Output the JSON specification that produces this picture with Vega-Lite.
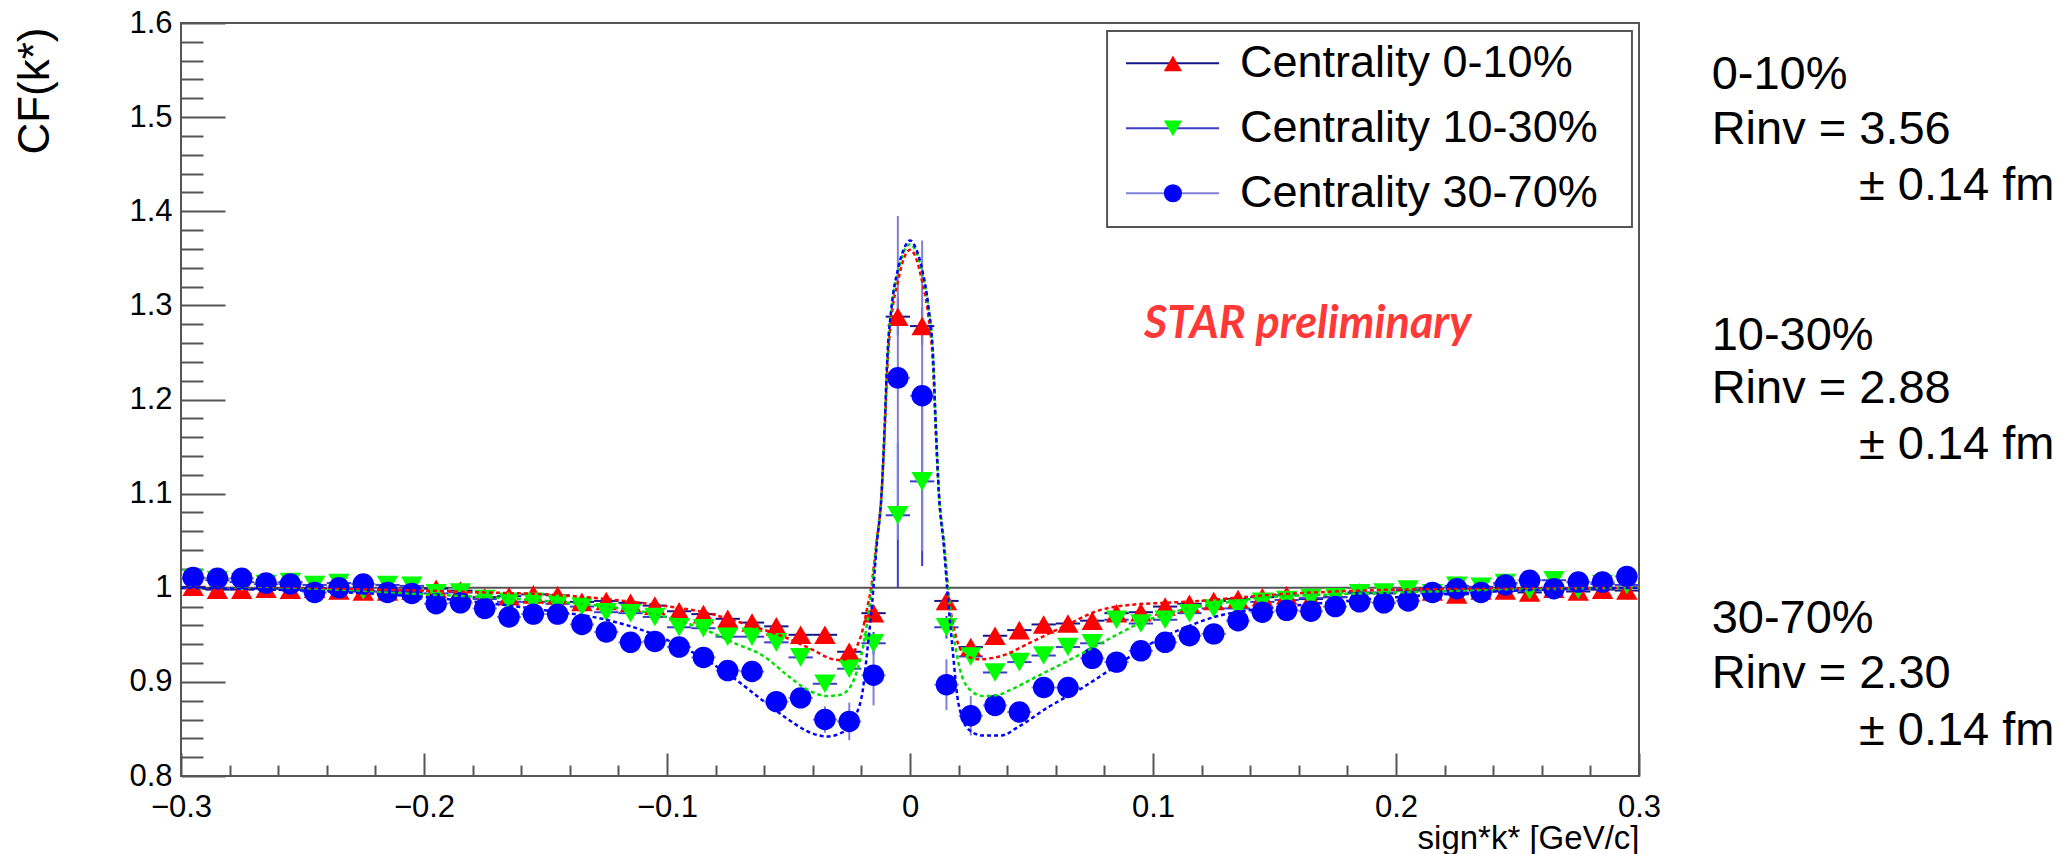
{
"$schema":"https://vega.github.io/schema/vega-lite/v6.json",
"width":1458,"height":753,
"autosize":{"type":"none"},
"padding":{"left":181,"top":23,"right":433,"bottom":78},
"background":"white",
"config":{"view":{"stroke":"#555","strokeWidth":2},"font":"Liberation Sans"},
"datasets":{
"pts":[
{"s":"0-10%","x":-0.295,"lo":-0.3,"hi":-0.29,"y":1.001,"e":0.003},
{"s":"0-10%","x":-0.285,"lo":-0.29,"hi":-0.28,"y":0.998,"e":0.003},
{"s":"0-10%","x":-0.275,"lo":-0.28,"hi":-0.27,"y":0.998,"e":0.003},
{"s":"0-10%","x":-0.265,"lo":-0.27,"hi":-0.26,"y":0.999,"e":0.003},
{"s":"0-10%","x":-0.255,"lo":-0.26,"hi":-0.25,"y":0.998,"e":0.003},
{"s":"0-10%","x":-0.245,"lo":-0.25,"hi":-0.24,"y":0.999,"e":0.003},
{"s":"0-10%","x":-0.235,"lo":-0.24,"hi":-0.23,"y":0.997,"e":0.003},
{"s":"0-10%","x":-0.225,"lo":-0.23,"hi":-0.22,"y":0.996,"e":0.003},
{"s":"0-10%","x":-0.215,"lo":-0.22,"hi":-0.21,"y":0.996,"e":0.003},
{"s":"0-10%","x":-0.205,"lo":-0.21,"hi":-0.2,"y":0.997,"e":0.003},
{"s":"0-10%","x":-0.195,"lo":-0.2,"hi":-0.19,"y":0.999,"e":0.003},
{"s":"0-10%","x":-0.185,"lo":-0.19,"hi":-0.18,"y":0.997,"e":0.003},
{"s":"0-10%","x":-0.175,"lo":-0.18,"hi":-0.17,"y":0.990,"e":0.003},
{"s":"0-10%","x":-0.165,"lo":-0.17,"hi":-0.16,"y":0.991,"e":0.003},
{"s":"0-10%","x":-0.155,"lo":-0.16,"hi":-0.15,"y":0.993,"e":0.003},
{"s":"0-10%","x":-0.145,"lo":-0.15,"hi":-0.14,"y":0.992,"e":0.003},
{"s":"0-10%","x":-0.135,"lo":-0.14,"hi":-0.13,"y":0.985,"e":0.003},
{"s":"0-10%","x":-0.125,"lo":-0.13,"hi":-0.12,"y":0.986,"e":0.003},
{"s":"0-10%","x":-0.115,"lo":-0.12,"hi":-0.11,"y":0.984,"e":0.003},
{"s":"0-10%","x":-0.105,"lo":-0.11,"hi":-0.1,"y":0.981,"e":0.003},
{"s":"0-10%","x":-0.095,"lo":-0.1,"hi":-0.09,"y":0.975,"e":0.004},
{"s":"0-10%","x":-0.085,"lo":-0.09,"hi":-0.08,"y":0.972,"e":0.004},
{"s":"0-10%","x":-0.075,"lo":-0.08,"hi":-0.07,"y":0.967,"e":0.004},
{"s":"0-10%","x":-0.065,"lo":-0.07,"hi":-0.06,"y":0.963,"e":0.004},
{"s":"0-10%","x":-0.055,"lo":-0.06,"hi":-0.05,"y":0.959,"e":0.004},
{"s":"0-10%","x":-0.045,"lo":-0.05,"hi":-0.04,"y":0.950,"e":0.005},
{"s":"0-10%","x":-0.035,"lo":-0.04,"hi":-0.03,"y":0.950,"e":0.005},
{"s":"0-10%","x":-0.025,"lo":-0.03,"hi":-0.02,"y":0.932,"e":0.006},
{"s":"0-10%","x":-0.015,"lo":-0.02,"hi":-0.01,"y":0.973,"e":0.008},
{"s":"0-10%","x":-0.005,"lo":-0.01,"hi":0,"y":1.288,"e":0.02},
{"s":"0-10%","x":0.005,"lo":0,"hi":0.01,"y":1.278,"e":0.02},
{"s":"0-10%","x":0.015,"lo":0.01,"hi":0.02,"y":0.986,"e":0.008},
{"s":"0-10%","x":0.025,"lo":0.02,"hi":0.03,"y":0.937,"e":0.006},
{"s":"0-10%","x":0.035,"lo":0.03,"hi":0.04,"y":0.949,"e":0.005},
{"s":"0-10%","x":0.045,"lo":0.04,"hi":0.05,"y":0.955,"e":0.005},
{"s":"0-10%","x":0.055,"lo":0.05,"hi":0.06,"y":0.961,"e":0.004},
{"s":"0-10%","x":0.065,"lo":0.06,"hi":0.07,"y":0.962,"e":0.004},
{"s":"0-10%","x":0.075,"lo":0.07,"hi":0.08,"y":0.965,"e":0.004},
{"s":"0-10%","x":0.085,"lo":0.08,"hi":0.09,"y":0.973,"e":0.004},
{"s":"0-10%","x":0.095,"lo":0.09,"hi":0.1,"y":0.974,"e":0.004},
{"s":"0-10%","x":0.105,"lo":0.1,"hi":0.11,"y":0.980,"e":0.003},
{"s":"0-10%","x":0.115,"lo":0.11,"hi":0.12,"y":0.983,"e":0.003},
{"s":"0-10%","x":0.125,"lo":0.12,"hi":0.13,"y":0.986,"e":0.003},
{"s":"0-10%","x":0.135,"lo":0.13,"hi":0.14,"y":0.988,"e":0.003},
{"s":"0-10%","x":0.145,"lo":0.14,"hi":0.15,"y":0.990,"e":0.003},
{"s":"0-10%","x":0.155,"lo":0.15,"hi":0.16,"y":0.992,"e":0.003},
{"s":"0-10%","x":0.165,"lo":0.16,"hi":0.17,"y":0.988,"e":0.003},
{"s":"0-10%","x":0.175,"lo":0.17,"hi":0.18,"y":0.990,"e":0.003},
{"s":"0-10%","x":0.185,"lo":0.18,"hi":0.19,"y":0.995,"e":0.003},
{"s":"0-10%","x":0.195,"lo":0.19,"hi":0.2,"y":0.994,"e":0.003},
{"s":"0-10%","x":0.205,"lo":0.2,"hi":0.21,"y":0.997,"e":0.003},
{"s":"0-10%","x":0.215,"lo":0.21,"hi":0.22,"y":0.996,"e":0.003},
{"s":"0-10%","x":0.225,"lo":0.22,"hi":0.23,"y":0.993,"e":0.003},
{"s":"0-10%","x":0.235,"lo":0.23,"hi":0.24,"y":0.997,"e":0.003},
{"s":"0-10%","x":0.245,"lo":0.24,"hi":0.25,"y":0.997,"e":0.003},
{"s":"0-10%","x":0.255,"lo":0.25,"hi":0.26,"y":0.995,"e":0.003},
{"s":"0-10%","x":0.265,"lo":0.26,"hi":0.27,"y":0.999,"e":0.003},
{"s":"0-10%","x":0.275,"lo":0.27,"hi":0.28,"y":0.996,"e":0.003},
{"s":"0-10%","x":0.285,"lo":0.28,"hi":0.29,"y":0.998,"e":0.003},
{"s":"0-10%","x":0.295,"lo":0.29,"hi":0.3,"y":0.997,"e":0.003},
{"s":"10-30%","x":-0.295,"lo":-0.3,"hi":-0.29,"y":1.010,"e":0.003},
{"s":"10-30%","x":-0.285,"lo":-0.29,"hi":-0.28,"y":1.008,"e":0.003},
{"s":"10-30%","x":-0.275,"lo":-0.28,"hi":-0.27,"y":1.006,"e":0.003},
{"s":"10-30%","x":-0.265,"lo":-0.27,"hi":-0.26,"y":1.004,"e":0.003},
{"s":"10-30%","x":-0.255,"lo":-0.26,"hi":-0.25,"y":1.006,"e":0.003},
{"s":"10-30%","x":-0.245,"lo":-0.25,"hi":-0.24,"y":1.003,"e":0.003},
{"s":"10-30%","x":-0.235,"lo":-0.24,"hi":-0.23,"y":1.005,"e":0.003},
{"s":"10-30%","x":-0.225,"lo":-0.23,"hi":-0.22,"y":0.997,"e":0.003},
{"s":"10-30%","x":-0.215,"lo":-0.22,"hi":-0.21,"y":1.003,"e":0.003},
{"s":"10-30%","x":-0.205,"lo":-0.21,"hi":-0.2,"y":1.002,"e":0.003},
{"s":"10-30%","x":-0.195,"lo":-0.2,"hi":-0.19,"y":0.994,"e":0.003},
{"s":"10-30%","x":-0.185,"lo":-0.19,"hi":-0.18,"y":0.995,"e":0.003},
{"s":"10-30%","x":-0.175,"lo":-0.18,"hi":-0.17,"y":0.988,"e":0.003},
{"s":"10-30%","x":-0.165,"lo":-0.17,"hi":-0.16,"y":0.985,"e":0.003},
{"s":"10-30%","x":-0.155,"lo":-0.16,"hi":-0.15,"y":0.985,"e":0.003},
{"s":"10-30%","x":-0.145,"lo":-0.15,"hi":-0.14,"y":0.983,"e":0.003},
{"s":"10-30%","x":-0.135,"lo":-0.14,"hi":-0.13,"y":0.980,"e":0.003},
{"s":"10-30%","x":-0.125,"lo":-0.13,"hi":-0.12,"y":0.974,"e":0.003},
{"s":"10-30%","x":-0.115,"lo":-0.12,"hi":-0.11,"y":0.973,"e":0.003},
{"s":"10-30%","x":-0.105,"lo":-0.11,"hi":-0.1,"y":0.969,"e":0.003},
{"s":"10-30%","x":-0.095,"lo":-0.1,"hi":-0.09,"y":0.958,"e":0.004},
{"s":"10-30%","x":-0.085,"lo":-0.09,"hi":-0.08,"y":0.957,"e":0.004},
{"s":"10-30%","x":-0.075,"lo":-0.08,"hi":-0.07,"y":0.948,"e":0.004},
{"s":"10-30%","x":-0.065,"lo":-0.07,"hi":-0.06,"y":0.948,"e":0.004},
{"s":"10-30%","x":-0.055,"lo":-0.06,"hi":-0.05,"y":0.942,"e":0.004},
{"s":"10-30%","x":-0.045,"lo":-0.05,"hi":-0.04,"y":0.926,"e":0.006},
{"s":"10-30%","x":-0.035,"lo":-0.04,"hi":-0.03,"y":0.898,"e":0.006},
{"s":"10-30%","x":-0.025,"lo":-0.03,"hi":-0.02,"y":0.914,"e":0.008},
{"s":"10-30%","x":-0.015,"lo":-0.02,"hi":-0.01,"y":0.941,"e":0.012},
{"s":"10-30%","x":-0.005,"lo":-0.01,"hi":0,"y":1.077,"e":0.077},
{"s":"10-30%","x":0.005,"lo":0,"hi":0.01,"y":1.113,"e":0.09},
{"s":"10-30%","x":0.015,"lo":0.01,"hi":0.02,"y":0.958,"e":0.012},
{"s":"10-30%","x":0.025,"lo":0.02,"hi":0.03,"y":0.927,"e":0.008},
{"s":"10-30%","x":0.035,"lo":0.03,"hi":0.04,"y":0.910,"e":0.006},
{"s":"10-30%","x":0.045,"lo":0.04,"hi":0.05,"y":0.921,"e":0.006},
{"s":"10-30%","x":0.055,"lo":0.05,"hi":0.06,"y":0.928,"e":0.004},
{"s":"10-30%","x":0.065,"lo":0.06,"hi":0.07,"y":0.937,"e":0.004},
{"s":"10-30%","x":0.075,"lo":0.07,"hi":0.08,"y":0.941,"e":0.004},
{"s":"10-30%","x":0.085,"lo":0.08,"hi":0.09,"y":0.966,"e":0.004},
{"s":"10-30%","x":0.095,"lo":0.09,"hi":0.1,"y":0.962,"e":0.004},
{"s":"10-30%","x":0.105,"lo":0.1,"hi":0.11,"y":0.966,"e":0.003},
{"s":"10-30%","x":0.115,"lo":0.11,"hi":0.12,"y":0.973,"e":0.003},
{"s":"10-30%","x":0.125,"lo":0.12,"hi":0.13,"y":0.978,"e":0.003},
{"s":"10-30%","x":0.135,"lo":0.13,"hi":0.14,"y":0.978,"e":0.003},
{"s":"10-30%","x":0.145,"lo":0.14,"hi":0.15,"y":0.985,"e":0.003},
{"s":"10-30%","x":0.155,"lo":0.15,"hi":0.16,"y":0.987,"e":0.003},
{"s":"10-30%","x":0.165,"lo":0.16,"hi":0.17,"y":0.989,"e":0.003},
{"s":"10-30%","x":0.175,"lo":0.17,"hi":0.18,"y":0.990,"e":0.003},
{"s":"10-30%","x":0.185,"lo":0.18,"hi":0.19,"y":0.994,"e":0.003},
{"s":"10-30%","x":0.195,"lo":0.19,"hi":0.2,"y":0.995,"e":0.003},
{"s":"10-30%","x":0.205,"lo":0.2,"hi":0.21,"y":0.998,"e":0.003},
{"s":"10-30%","x":0.215,"lo":0.21,"hi":0.22,"y":0.994,"e":0.003},
{"s":"10-30%","x":0.225,"lo":0.22,"hi":0.23,"y":1.002,"e":0.003},
{"s":"10-30%","x":0.235,"lo":0.23,"hi":0.24,"y":1.001,"e":0.003},
{"s":"10-30%","x":0.245,"lo":0.24,"hi":0.25,"y":1.005,"e":0.003},
{"s":"10-30%","x":0.255,"lo":0.25,"hi":0.26,"y":0.997,"e":0.003},
{"s":"10-30%","x":0.265,"lo":0.26,"hi":0.27,"y":1.008,"e":0.003},
{"s":"10-30%","x":0.275,"lo":0.27,"hi":0.28,"y":0.998,"e":0.003},
{"s":"10-30%","x":0.285,"lo":0.28,"hi":0.29,"y":1.004,"e":0.003},
{"s":"10-30%","x":0.295,"lo":0.29,"hi":0.3,"y":1.003,"e":0.003},
{"s":"30-70%","x":-0.295,"lo":-0.3,"hi":-0.29,"y":1.011,"e":0.004},
{"s":"30-70%","x":-0.285,"lo":-0.29,"hi":-0.28,"y":1.010,"e":0.004},
{"s":"30-70%","x":-0.275,"lo":-0.28,"hi":-0.27,"y":1.010,"e":0.004},
{"s":"30-70%","x":-0.265,"lo":-0.27,"hi":-0.26,"y":1.005,"e":0.004},
{"s":"30-70%","x":-0.255,"lo":-0.26,"hi":-0.25,"y":1.004,"e":0.004},
{"s":"30-70%","x":-0.245,"lo":-0.25,"hi":-0.24,"y":0.995,"e":0.004},
{"s":"30-70%","x":-0.235,"lo":-0.24,"hi":-0.23,"y":1.000,"e":0.004},
{"s":"30-70%","x":-0.225,"lo":-0.23,"hi":-0.22,"y":1.004,"e":0.004},
{"s":"30-70%","x":-0.215,"lo":-0.22,"hi":-0.21,"y":0.995,"e":0.004},
{"s":"30-70%","x":-0.205,"lo":-0.21,"hi":-0.2,"y":0.994,"e":0.004},
{"s":"30-70%","x":-0.195,"lo":-0.2,"hi":-0.19,"y":0.983,"e":0.004},
{"s":"30-70%","x":-0.185,"lo":-0.19,"hi":-0.18,"y":0.984,"e":0.004},
{"s":"30-70%","x":-0.175,"lo":-0.18,"hi":-0.17,"y":0.978,"e":0.004},
{"s":"30-70%","x":-0.165,"lo":-0.17,"hi":-0.16,"y":0.969,"e":0.004},
{"s":"30-70%","x":-0.155,"lo":-0.16,"hi":-0.15,"y":0.972,"e":0.004},
{"s":"30-70%","x":-0.145,"lo":-0.15,"hi":-0.14,"y":0.972,"e":0.004},
{"s":"30-70%","x":-0.135,"lo":-0.14,"hi":-0.13,"y":0.961,"e":0.004},
{"s":"30-70%","x":-0.125,"lo":-0.13,"hi":-0.12,"y":0.953,"e":0.004},
{"s":"30-70%","x":-0.115,"lo":-0.12,"hi":-0.11,"y":0.942,"e":0.005},
{"s":"30-70%","x":-0.105,"lo":-0.11,"hi":-0.1,"y":0.943,"e":0.005},
{"s":"30-70%","x":-0.095,"lo":-0.1,"hi":-0.09,"y":0.937,"e":0.006},
{"s":"30-70%","x":-0.085,"lo":-0.09,"hi":-0.08,"y":0.926,"e":0.006},
{"s":"30-70%","x":-0.075,"lo":-0.08,"hi":-0.07,"y":0.912,"e":0.006},
{"s":"30-70%","x":-0.065,"lo":-0.07,"hi":-0.06,"y":0.911,"e":0.007},
{"s":"30-70%","x":-0.055,"lo":-0.06,"hi":-0.05,"y":0.879,"e":0.008},
{"s":"30-70%","x":-0.045,"lo":-0.05,"hi":-0.04,"y":0.883,"e":0.01},
{"s":"30-70%","x":-0.035,"lo":-0.04,"hi":-0.03,"y":0.860,"e":0.014},
{"s":"30-70%","x":-0.025,"lo":-0.03,"hi":-0.02,"y":0.858,"e":0.02},
{"s":"30-70%","x":-0.015,"lo":-0.02,"hi":-0.01,"y":0.907,"e":0.032},
{"s":"30-70%","x":-0.005,"lo":-0.01,"hi":0,"y":1.223,"e":0.172},
{"s":"30-70%","x":0.005,"lo":0,"hi":0.01,"y":1.204,"e":0.165},
{"s":"30-70%","x":0.015,"lo":0.01,"hi":0.02,"y":0.897,"e":0.027},
{"s":"30-70%","x":0.025,"lo":0.02,"hi":0.03,"y":0.864,"e":0.021},
{"s":"30-70%","x":0.035,"lo":0.03,"hi":0.04,"y":0.875,"e":0.011},
{"s":"30-70%","x":0.045,"lo":0.04,"hi":0.05,"y":0.868,"e":0.01},
{"s":"30-70%","x":0.055,"lo":0.05,"hi":0.06,"y":0.894,"e":0.008},
{"s":"30-70%","x":0.065,"lo":0.06,"hi":0.07,"y":0.894,"e":0.007},
{"s":"30-70%","x":0.075,"lo":0.07,"hi":0.08,"y":0.925,"e":0.006},
{"s":"30-70%","x":0.085,"lo":0.08,"hi":0.09,"y":0.921,"e":0.006},
{"s":"30-70%","x":0.095,"lo":0.09,"hi":0.1,"y":0.933,"e":0.006},
{"s":"30-70%","x":0.105,"lo":0.1,"hi":0.11,"y":0.942,"e":0.005},
{"s":"30-70%","x":0.115,"lo":0.11,"hi":0.12,"y":0.949,"e":0.005},
{"s":"30-70%","x":0.125,"lo":0.12,"hi":0.13,"y":0.951,"e":0.004},
{"s":"30-70%","x":0.135,"lo":0.13,"hi":0.14,"y":0.965,"e":0.004},
{"s":"30-70%","x":0.145,"lo":0.14,"hi":0.15,"y":0.974,"e":0.004},
{"s":"30-70%","x":0.155,"lo":0.15,"hi":0.16,"y":0.976,"e":0.004},
{"s":"30-70%","x":0.165,"lo":0.16,"hi":0.17,"y":0.975,"e":0.004},
{"s":"30-70%","x":0.175,"lo":0.17,"hi":0.18,"y":0.980,"e":0.004},
{"s":"30-70%","x":0.185,"lo":0.18,"hi":0.19,"y":0.985,"e":0.004},
{"s":"30-70%","x":0.195,"lo":0.19,"hi":0.2,"y":0.984,"e":0.004},
{"s":"30-70%","x":0.205,"lo":0.2,"hi":0.21,"y":0.986,"e":0.004},
{"s":"30-70%","x":0.215,"lo":0.21,"hi":0.22,"y":0.995,"e":0.004},
{"s":"30-70%","x":0.225,"lo":0.22,"hi":0.23,"y":0.999,"e":0.004},
{"s":"30-70%","x":0.235,"lo":0.23,"hi":0.24,"y":0.995,"e":0.004},
{"s":"30-70%","x":0.245,"lo":0.24,"hi":0.25,"y":1.003,"e":0.004},
{"s":"30-70%","x":0.255,"lo":0.25,"hi":0.26,"y":1.008,"e":0.004},
{"s":"30-70%","x":0.265,"lo":0.26,"hi":0.27,"y":0.999,"e":0.004},
{"s":"30-70%","x":0.275,"lo":0.27,"hi":0.28,"y":1.006,"e":0.004},
{"s":"30-70%","x":0.285,"lo":0.28,"hi":0.29,"y":1.006,"e":0.004},
{"s":"30-70%","x":0.295,"lo":0.29,"hi":0.3,"y":1.012,"e":0.004}
],
"fit":[
{"s":"0-10%","x":-0.3,"y":1.000},{"s":"0-10%","x":-0.25,"y":0.999},{"s":"0-10%","x":-0.2,"y":0.997},{"s":"0-10%","x":-0.175,"y":0.995},{"s":"0-10%","x":-0.15,"y":0.993},{"s":"0-10%","x":-0.125,"y":0.988},{"s":"0-10%","x":-0.105,"y":0.982},{"s":"0-10%","x":-0.085,"y":0.974},{"s":"0-10%","x":-0.066,"y":0.960},{"s":"0-10%","x":-0.052,"y":0.948},{"s":"0-10%","x":-0.04,"y":0.934},{"s":"0-10%","x":-0.033,"y":0.925},{"s":"0-10%","x":-0.028,"y":0.923},{"s":"0-10%","x":-0.0253,"y":0.926},{"s":"0-10%","x":-0.022,"y":0.937},{"s":"0-10%","x":-0.0195,"y":0.955},{"s":"0-10%","x":-0.0175,"y":0.98},{"s":"0-10%","x":-0.016,"y":1.0},{"s":"0-10%","x":-0.0137,"y":1.05},{"s":"0-10%","x":-0.0117,"y":1.10},{"s":"0-10%","x":-0.0105,"y":1.16},{"s":"0-10%","x":-0.0093,"y":1.235},{"s":"0-10%","x":-0.0075,"y":1.29},{"s":"0-10%","x":-0.005,"y":1.325},{"s":"0-10%","x":-0.0025,"y":1.35},{"s":"0-10%","x":0,"y":1.359},{"s":"0-10%","x":0.0025,"y":1.35},{"s":"0-10%","x":0.005,"y":1.325},{"s":"0-10%","x":0.0075,"y":1.29},{"s":"0-10%","x":0.0095,"y":1.235},{"s":"0-10%","x":0.0107,"y":1.16},{"s":"0-10%","x":0.0119,"y":1.10},{"s":"0-10%","x":0.0139,"y":1.05},{"s":"0-10%","x":0.016,"y":0.99},{"s":"0-10%","x":0.0189,"y":0.948},{"s":"0-10%","x":0.023,"y":0.928},{"s":"0-10%","x":0.0285,"y":0.924},{"s":"0-10%","x":0.0368,"y":0.927},{"s":"0-10%","x":0.0505,"y":0.943},{"s":"0-10%","x":0.0642,"y":0.960},{"s":"0-10%","x":0.0779,"y":0.976},{"s":"0-10%","x":0.0916,"y":0.982},{"s":"0-10%","x":0.1053,"y":0.984},{"s":"0-10%","x":0.119,"y":0.986},{"s":"0-10%","x":0.1327,"y":0.989},{"s":"0-10%","x":0.1464,"y":0.992},{"s":"0-10%","x":0.175,"y":0.996},{"s":"0-10%","x":0.2,"y":0.998},{"s":"0-10%","x":0.25,"y":0.999},{"s":"0-10%","x":0.3,"y":1.0},
{"s":"10-30%","x":-0.3,"y":1.000},{"s":"10-30%","x":-0.25,"y":0.998},{"s":"10-30%","x":-0.2,"y":0.993},{"s":"10-30%","x":-0.175,"y":0.990},{"s":"10-30%","x":-0.15,"y":0.986},{"s":"10-30%","x":-0.125,"y":0.980},{"s":"10-30%","x":-0.105,"y":0.972},{"s":"10-30%","x":-0.085,"y":0.956},{"s":"10-30%","x":-0.072,"y":0.941},{"s":"10-30%","x":-0.06,"y":0.927},{"s":"10-30%","x":-0.05,"y":0.906},{"s":"10-30%","x":-0.041,"y":0.890},{"s":"10-30%","x":-0.034,"y":0.885},{"s":"10-30%","x":-0.029,"y":0.886},{"s":"10-30%","x":-0.025,"y":0.893},{"s":"10-30%","x":-0.022,"y":0.910},{"s":"10-30%","x":-0.0195,"y":0.935},{"s":"10-30%","x":-0.0175,"y":0.965},{"s":"10-30%","x":-0.0158,"y":0.998},{"s":"10-30%","x":-0.0137,"y":1.05},{"s":"10-30%","x":-0.0117,"y":1.10},{"s":"10-30%","x":-0.0105,"y":1.167},{"s":"10-30%","x":-0.0093,"y":1.245},{"s":"10-30%","x":-0.0075,"y":1.30},{"s":"10-30%","x":-0.005,"y":1.335},{"s":"10-30%","x":-0.0025,"y":1.357},{"s":"10-30%","x":0,"y":1.365},{"s":"10-30%","x":0.0025,"y":1.357},{"s":"10-30%","x":0.005,"y":1.335},{"s":"10-30%","x":0.0075,"y":1.30},{"s":"10-30%","x":0.0095,"y":1.245},{"s":"10-30%","x":0.0107,"y":1.167},{"s":"10-30%","x":0.0119,"y":1.10},{"s":"10-30%","x":0.0139,"y":1.05},{"s":"10-30%","x":0.016,"y":0.99},{"s":"10-30%","x":0.0185,"y":0.94},{"s":"10-30%","x":0.0207,"y":0.912},{"s":"10-30%","x":0.025,"y":0.891},{"s":"10-30%","x":0.03,"y":0.885},{"s":"10-30%","x":0.036,"y":0.886},{"s":"10-30%","x":0.0409,"y":0.891},{"s":"10-30%","x":0.0532,"y":0.907},{"s":"10-30%","x":0.0669,"y":0.925},{"s":"10-30%","x":0.0807,"y":0.944},{"s":"10-30%","x":0.0944,"y":0.962},{"s":"10-30%","x":0.1109,"y":0.976},{"s":"10-30%","x":0.127,"y":0.983},{"s":"10-30%","x":0.143,"y":0.989},{"s":"10-30%","x":0.175,"y":0.993},{"s":"10-30%","x":0.2,"y":0.995},{"s":"10-30%","x":0.25,"y":0.998},{"s":"10-30%","x":0.3,"y":1.0},
{"s":"30-70%","x":-0.3,"y":1.000},{"s":"30-70%","x":-0.25,"y":0.997},{"s":"30-70%","x":-0.2,"y":0.990},{"s":"30-70%","x":-0.175,"y":0.984},{"s":"30-70%","x":-0.15,"y":0.976},{"s":"30-70%","x":-0.125,"y":0.966},{"s":"30-70%","x":-0.105,"y":0.950},{"s":"30-70%","x":-0.085,"y":0.925},{"s":"30-70%","x":-0.072,"y":0.903},{"s":"30-70%","x":-0.06,"y":0.879},{"s":"30-70%","x":-0.05,"y":0.860},{"s":"30-70%","x":-0.041,"y":0.846},{"s":"30-70%","x":-0.034,"y":0.842},{"s":"30-70%","x":-0.029,"y":0.845},{"s":"30-70%","x":-0.025,"y":0.852},{"s":"30-70%","x":-0.022,"y":0.866},{"s":"30-70%","x":-0.0195,"y":0.89},{"s":"30-70%","x":-0.0175,"y":0.935},{"s":"30-70%","x":-0.0156,"y":0.983},{"s":"30-70%","x":-0.0137,"y":1.045},{"s":"30-70%","x":-0.0117,"y":1.10},{"s":"30-70%","x":-0.0105,"y":1.167},{"s":"30-70%","x":-0.0093,"y":1.245},{"s":"30-70%","x":-0.0075,"y":1.30},{"s":"30-70%","x":-0.005,"y":1.338},{"s":"30-70%","x":-0.0025,"y":1.36},{"s":"30-70%","x":0,"y":1.369},{"s":"30-70%","x":0.0025,"y":1.36},{"s":"30-70%","x":0.005,"y":1.338},{"s":"30-70%","x":0.0075,"y":1.30},{"s":"30-70%","x":0.0095,"y":1.245},{"s":"30-70%","x":0.0107,"y":1.167},{"s":"30-70%","x":0.0119,"y":1.10},{"s":"30-70%","x":0.0139,"y":1.045},{"s":"30-70%","x":0.0158,"y":0.983},{"s":"30-70%","x":0.0177,"y":0.93},{"s":"30-70%","x":0.0195,"y":0.884},{"s":"30-70%","x":0.0215,"y":0.862},{"s":"30-70%","x":0.0243,"y":0.849},{"s":"30-70%","x":0.03,"y":0.843},{"s":"30-70%","x":0.0375,"y":0.843},{"s":"30-70%","x":0.0444,"y":0.852},{"s":"30-70%","x":0.0568,"y":0.873},{"s":"30-70%","x":0.0705,"y":0.893},{"s":"30-70%","x":0.0842,"y":0.916},{"s":"30-70%","x":0.0993,"y":0.941},{"s":"30-70%","x":0.1144,"y":0.959},{"s":"30-70%","x":0.1267,"y":0.970},{"s":"30-70%","x":0.139,"y":0.976},{"s":"30-70%","x":0.15,"y":0.979},{"s":"30-70%","x":0.175,"y":0.985},{"s":"30-70%","x":0.2,"y":0.990},{"s":"30-70%","x":0.25,"y":0.997},{"s":"30-70%","x":0.3,"y":1.0}
]
},
"layer":[
{"data":{"values":[{}]},"mark":{"type":"rule","color":"#555","strokeWidth":2},
 "encoding":{"y":{"datum":1,"type":"quantitative","axis":null}}},
{"data":{"name":"pts"},"mark":{"type":"errorbar","ticks":false,"thickness":2},
 "encoding":{"x":{"field":"x","type":"quantitative","axis":null},
  "y":{"field":"y","type":"quantitative","axis":null},
  "yError":{"field":"e"},
  "color":{"field":"s","type":"nominal","scale":{"domain":["0-10%","10-30%","30-70%"],"range":["#14148f","#3c3cc8","#8080d8"]},"legend":null}}},
{"data":{"name":"pts"},"mark":{"type":"rule","strokeWidth":2},
 "encoding":{"x":{"field":"lo","type":"quantitative","axis":{"orient":"bottom","values":[-0.28,-0.26,-0.24,-0.22,-0.18,-0.16,-0.14,-0.12,-0.08,-0.06,-0.04,-0.02,0.02,0.04,0.06,0.08,0.12,0.14,0.16,0.18,0.22,0.24,0.26,0.28],"labels":false,"domain":false,"grid":false,"tickSize":-11,"tickWidth":2,"tickColor":"#555","title":null}},
  "x2":{"field":"hi"},
  "y":{"field":"y","type":"quantitative","axis":{"orient":"left","values":[0.82,0.84,0.86,0.88,0.92,0.94,0.96,0.98,1.02,1.04,1.06,1.08,1.12,1.14,1.16,1.18,1.22,1.24,1.26,1.28,1.32,1.34,1.36,1.38,1.42,1.44,1.46,1.48,1.52,1.54,1.56,1.58],"labels":false,"domain":false,"grid":false,"tickSize":-22,"tickWidth":2,"tickColor":"#555","title":null}},
  "color":{"field":"s","type":"nominal","scale":{"domain":["0-10%","10-30%","30-70%"],"range":["#14148f","#3c3cc8","#8080d8"]},"legend":null}}},
{"data":{"name":"pts"},"mark":{"type":"point","filled":true,"opacity":1,"size":460,"strokeWidth":0},
 "encoding":{"x":{"field":"x","type":"quantitative","scale":{"domain":[-0.3,0.3],"nice":false,"zero":false},
   "axis":{"orient":"bottom","values":[-0.3,-0.2,-0.1,0,0.1,0.2,0.3],"format":".1~f","domain":false,"grid":false,"tickSize":-23,"tickWidth":2,"tickColor":"#555","labelFont":"Liberation Sans","labelFontSize":31,"labelColor":"#000","labelPadding":39,"labelFlush":false,"labelOverlap":false,"labelBound":false,
    "title":"sign*k* [GeV/c]","titleFont":"Liberation Sans","titleFontSize":33,"titleFontWeight":"normal","titleColor":"#000","titleX":1458,"titleY":72,"titleAlign":"right","titleBaseline":"alphabetic","titleAnchor":null}},
  "y":{"field":"y","type":"quantitative","scale":{"domain":[0.8,1.6],"nice":false,"zero":false},
   "axis":{"orient":"left","values":[0.8,0.9,1,1.1,1.2,1.3,1.4,1.5,1.6],"format":".1~f","domain":false,"grid":false,"tickSize":-44,"tickWidth":2,"tickColor":"#555","labelFont":"Liberation Sans","labelFontSize":31,"labelColor":"#000","labelPadding":53,"labelFlush":false,"labelOverlap":false,"labelBound":false,
    "title":"CF(k*)","titleFont":"Liberation Sans","titleFontSize":44,"titleFontWeight":"normal","titleColor":"#000","titleX":-146,"titleY":4,"titleAngle":-90,"titleAlign":"right","titleBaseline":"middle","titleAnchor":null}},
  "color":{"field":"s","type":"nominal","scale":{"domain":["0-10%","10-30%","30-70%"],"range":["#ff0000","#00ff00","#0000ff"]},"legend":null},
  "shape":{"field":"s","type":"nominal","scale":{"domain":["0-10%","10-30%","30-70%"],"range":["triangle-up","triangle-down","circle"]},"legend":null}}},
{"data":{"name":"fit"},"mark":{"type":"line","strokeWidth":2.5,"strokeDash":[4,3],"interpolate":"monotone"},
 "encoding":{"x":{"field":"x","type":"quantitative","axis":null},
  "y":{"field":"y","type":"quantitative","axis":null},
  "color":{"field":"s","type":"nominal","scale":{"domain":["0-10%","10-30%","30-70%"],"range":["#ff0000","#00e000","#0000ff"]},"legend":null}}},
{"data":{"values":[{}]},"mark":{"type":"rect","fill":"white","stroke":"#555","strokeWidth":2},
 "encoding":{"x":{"datum":0.0811,"type":"quantitative","axis":null},"x2":{"datum":0.2971},"y":{"datum":1.5915,"type":"quantitative","axis":null},"y2":{"datum":1.3833}}},
{"data":{"values":[{}]},"mark":{"type":"rule","color":"#14148f","strokeWidth":2},
 "encoding":{"x":{"datum":0.0889,"type":"quantitative","axis":null},"x2":{"datum":0.1272},"y":{"datum":1.5572,"type":"quantitative","axis":null}}},
{"data":{"values":[{}]},"mark":{"type":"rule","color":"#3c3cc8","strokeWidth":2},
 "encoding":{"x":{"datum":0.0889,"type":"quantitative","axis":null},"x2":{"datum":0.1272},"y":{"datum":1.4881,"type":"quantitative","axis":null}}},
{"data":{"values":[{}]},"mark":{"type":"rule","color":"#8080d8","strokeWidth":2},
 "encoding":{"x":{"datum":0.0889,"type":"quantitative","axis":null},"x2":{"datum":0.1272},"y":{"datum":1.4191,"type":"quantitative","axis":null}}},
{"data":{"values":[{}]},"mark":{"type":"point","filled":true,"opacity":1,"size":330,"strokeWidth":0,"shape":"triangle-up","color":"#ff0000"},
 "encoding":{"x":{"datum":0.1082,"type":"quantitative","axis":null},"y":{"datum":1.5572,"type":"quantitative","axis":null}}},
{"data":{"values":[{}]},"mark":{"type":"point","filled":true,"opacity":1,"size":330,"strokeWidth":0,"shape":"triangle-down","color":"#00ff00"},
 "encoding":{"x":{"datum":0.1082,"type":"quantitative","axis":null},"y":{"datum":1.4881,"type":"quantitative","axis":null}}},
{"data":{"values":[{}]},"mark":{"type":"point","filled":true,"opacity":1,"size":330,"strokeWidth":0,"shape":"circle","color":"#0000ff"},
 "encoding":{"x":{"datum":0.1082,"type":"quantitative","axis":null},"y":{"datum":1.4191,"type":"quantitative","axis":null}}},
{"data":{"values":[{}]},"mark":{"type":"text","font":"Liberation Sans","fontSize":45,"color":"#000","align":"left","baseline":"alphabetic","lineHeight":65},
 "encoding":{"x":{"datum":0.1358,"type":"quantitative","axis":null},"y":{"datum":1.5430,"type":"quantitative","axis":null},"text":{"value":["Centrality 0-10%","Centrality 10-30%","Centrality 30-70%"]}}},
{"data":{"values":[{}]},"mark":{"type":"text","font":"Liberation Sans","fontSize":47,"color":"#000","align":"left","baseline":"alphabetic","lineHeight":55},
 "encoding":{"x":{"datum":0.3299,"type":"quantitative","axis":null},"y":{"datum":1.5296,"type":"quantitative","axis":null},"text":{"value":["0-10%","Rinv = 3.56"]}}},
{"data":{"values":[{}]},"mark":{"type":"text","font":"Liberation Sans","fontSize":47,"color":"#000","align":"left","baseline":"alphabetic"},
 "encoding":{"x":{"datum":0.3905,"type":"quantitative","axis":null},"y":{"datum":1.4120,"type":"quantitative","axis":null},"text":{"value":"± 0.14 fm"}}},
{"data":{"values":[{}]},"mark":{"type":"text","font":"Liberation Sans","fontSize":47,"color":"#000","align":"left","baseline":"alphabetic","lineHeight":53},
 "encoding":{"x":{"datum":0.3299,"type":"quantitative","axis":null},"y":{"datum":1.2526,"type":"quantitative","axis":null},"text":{"value":["10-30%","Rinv = 2.88"]}}},
{"data":{"values":[{}]},"mark":{"type":"text","font":"Liberation Sans","fontSize":47,"color":"#000","align":"left","baseline":"alphabetic"},
 "encoding":{"x":{"datum":0.3905,"type":"quantitative","axis":null},"y":{"datum":1.1365,"type":"quantitative","axis":null},"text":{"value":"± 0.14 fm"}}},
{"data":{"values":[{}]},"mark":{"type":"text","font":"Liberation Sans","fontSize":47,"color":"#000","align":"left","baseline":"alphabetic","lineHeight":55},
 "encoding":{"x":{"datum":0.3299,"type":"quantitative","axis":null},"y":{"datum":0.9516,"type":"quantitative","axis":null},"text":{"value":["30-70%","Rinv = 2.30"]}}},
{"data":{"values":[{}]},"mark":{"type":"text","font":"Liberation Sans","fontSize":47,"color":"#000","align":"left","baseline":"alphabetic"},
 "encoding":{"x":{"datum":0.3905,"type":"quantitative","axis":null},"y":{"datum":0.8329,"type":"quantitative","axis":null},"text":{"value":"± 0.14 fm"}}},
{"data":{"values":[{}]},"mark":{"type":"text","font":"Lato","fontSize":45,"fontWeight":"bold","fontStyle":"italic","color":"#ff3838","align":"left","baseline":"alphabetic"},
 "encoding":{"x":{"datum":0.0963,"type":"quantitative","axis":null},"y":{"datum":1.2653,"type":"quantitative","axis":null},"text":{"value":"STAR preliminary"}}}
],
"resolve":{"axis":{"x":"independent","y":"independent"},"scale":{"color":"independent","shape":"independent"}}
}
